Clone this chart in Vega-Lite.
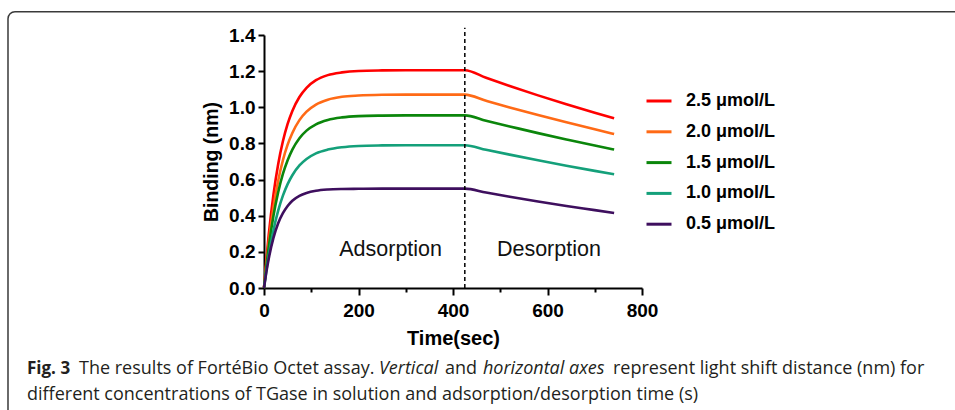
{
  "$schema": "https://vega.github.io/schema/vega-lite/v6.json",
  "width": 378,
  "height": 253,
  "autosize": {"type": "none"},
  "padding": {"left": 264, "top": 35, "right": 313, "bottom": 122},
  "background": "white",
  "config": {
    "view": {"stroke": null},
    "font": "Liberation Sans",
    "axis": {"grid": false, "domainColor": "black", "domainWidth": 2, "tickColor": "black", "tickWidth": 2,
      "labelFont": "Liberation Sans", "labelFontSize": 19, "labelFontWeight": "bold", "labelColor": "black", "labelOverlap": false,
      "titleFont": "Liberation Sans", "titleFontWeight": "bold", "titleColor": "black"},
    "axisX": {"values": [0,100,200,300,400,500,600,700,800], "labelPadding": 6, "labelFlush": false, "titleFontSize": 20, "titlePadding": 8},
    "axisY": {"values": [0,0.2,0.4,0.6,0.8,1.0,1.2,1.4], "labelPadding": 3, "titleFontSize": 19.5, "titlePadding": 7, "tickSize": 6}
  },
  "layer": [
    {
      "data": {"values": [
        {"c":"2.5 μmol/L","t":0,"v":0},{"c":"2.5 μmol/L","t":5,"v":0.157},{"c":"2.5 μmol/L","t":10,"v":0.294},{"c":"2.5 μmol/L","t":20,"v":0.517},{"c":"2.5 μmol/L","t":30,"v":0.685},{"c":"2.5 μmol/L","t":40,"v":0.812},{"c":"2.5 μmol/L","t":50,"v":0.908},{"c":"2.5 μmol/L","t":60,"v":0.98},{"c":"2.5 μmol/L","t":75,"v":1.057},{"c":"2.5 μmol/L","t":90,"v":1.108},{"c":"2.5 μmol/L","t":110,"v":1.15},{"c":"2.5 μmol/L","t":135,"v":1.178},{"c":"2.5 μmol/L","t":165,"v":1.193},{"c":"2.5 μmol/L","t":200,"v":1.201},{"c":"2.5 μmol/L","t":250,"v":1.204},{"c":"2.5 μmol/L","t":300,"v":1.205},{"c":"2.5 μmol/L","t":360,"v":1.205},{"c":"2.5 μmol/L","t":425,"v":1.205},{"c":"2.5 μmol/L","t":470,"v":1.163},{"c":"2.5 μmol/L","t":520,"v":1.118},{"c":"2.5 μmol/L","t":580,"v":1.066},{"c":"2.5 μmol/L","t":640,"v":1.017},{"c":"2.5 μmol/L","t":700,"v":0.97},{"c":"2.5 μmol/L","t":741,"v":0.939},
        {"c":"2.0 μmol/L","t":0,"v":0},{"c":"2.0 μmol/L","t":5,"v":0.135},{"c":"2.0 μmol/L","t":10,"v":0.253},{"c":"2.0 μmol/L","t":20,"v":0.447},{"c":"2.0 μmol/L","t":30,"v":0.594},{"c":"2.0 μmol/L","t":40,"v":0.707},{"c":"2.0 μmol/L","t":50,"v":0.793},{"c":"2.0 μmol/L","t":60,"v":0.858},{"c":"2.0 μmol/L","t":75,"v":0.929},{"c":"2.0 μmol/L","t":90,"v":0.976},{"c":"2.0 μmol/L","t":110,"v":1.015},{"c":"2.0 μmol/L","t":135,"v":1.042},{"c":"2.0 μmol/L","t":165,"v":1.058},{"c":"2.0 μmol/L","t":200,"v":1.065},{"c":"2.0 μmol/L","t":250,"v":1.069},{"c":"2.0 μmol/L","t":300,"v":1.07},{"c":"2.0 μmol/L","t":360,"v":1.07},{"c":"2.0 μmol/L","t":425,"v":1.07},{"c":"2.0 μmol/L","t":470,"v":1.036},{"c":"2.0 μmol/L","t":520,"v":0.999},{"c":"2.0 μmol/L","t":580,"v":0.957},{"c":"2.0 μmol/L","t":640,"v":0.917},{"c":"2.0 μmol/L","t":700,"v":0.878},{"c":"2.0 μmol/L","t":741,"v":0.852},
        {"c":"1.5 μmol/L","t":0,"v":0},{"c":"1.5 μmol/L","t":5,"v":0.121},{"c":"1.5 μmol/L","t":10,"v":0.226},{"c":"1.5 μmol/L","t":20,"v":0.399},{"c":"1.5 μmol/L","t":30,"v":0.53},{"c":"1.5 μmol/L","t":40,"v":0.631},{"c":"1.5 μmol/L","t":50,"v":0.707},{"c":"1.5 μmol/L","t":60,"v":0.766},{"c":"1.5 μmol/L","t":75,"v":0.829},{"c":"1.5 μmol/L","t":90,"v":0.871},{"c":"1.5 μmol/L","t":110,"v":0.906},{"c":"1.5 μmol/L","t":135,"v":0.93},{"c":"1.5 μmol/L","t":165,"v":0.944},{"c":"1.5 μmol/L","t":200,"v":0.951},{"c":"1.5 μmol/L","t":250,"v":0.954},{"c":"1.5 μmol/L","t":300,"v":0.955},{"c":"1.5 μmol/L","t":360,"v":0.955},{"c":"1.5 μmol/L","t":425,"v":0.955},{"c":"1.5 μmol/L","t":470,"v":0.925},{"c":"1.5 μmol/L","t":520,"v":0.894},{"c":"1.5 μmol/L","t":580,"v":0.857},{"c":"1.5 μmol/L","t":640,"v":0.822},{"c":"1.5 μmol/L","t":700,"v":0.788},{"c":"1.5 μmol/L","t":741,"v":0.766},
        {"c":"1.0 μmol/L","t":0,"v":0},{"c":"1.0 μmol/L","t":5,"v":0.096},{"c":"1.0 μmol/L","t":10,"v":0.181},{"c":"1.0 μmol/L","t":20,"v":0.32},{"c":"1.0 μmol/L","t":30,"v":0.428},{"c":"1.0 μmol/L","t":40,"v":0.511},{"c":"1.0 μmol/L","t":50,"v":0.575},{"c":"1.0 μmol/L","t":60,"v":0.624},{"c":"1.0 μmol/L","t":75,"v":0.678},{"c":"1.0 μmol/L","t":90,"v":0.714},{"c":"1.0 μmol/L","t":110,"v":0.745},{"c":"1.0 μmol/L","t":135,"v":0.766},{"c":"1.0 μmol/L","t":165,"v":0.779},{"c":"1.0 μmol/L","t":200,"v":0.786},{"c":"1.0 μmol/L","t":250,"v":0.789},{"c":"1.0 μmol/L","t":300,"v":0.79},{"c":"1.0 μmol/L","t":360,"v":0.79},{"c":"1.0 μmol/L","t":425,"v":0.79},{"c":"1.0 μmol/L","t":470,"v":0.765},{"c":"1.0 μmol/L","t":520,"v":0.738},{"c":"1.0 μmol/L","t":580,"v":0.707},{"c":"1.0 μmol/L","t":640,"v":0.677},{"c":"1.0 μmol/L","t":700,"v":0.648},{"c":"1.0 μmol/L","t":741,"v":0.629},
        {"c":"0.5 μmol/L","t":0,"v":0},{"c":"0.5 μmol/L","t":5,"v":0.088},{"c":"0.5 μmol/L","t":10,"v":0.162},{"c":"0.5 μmol/L","t":20,"v":0.277},{"c":"0.5 μmol/L","t":30,"v":0.358},{"c":"0.5 μmol/L","t":40,"v":0.414},{"c":"0.5 μmol/L","t":50,"v":0.454},{"c":"0.5 μmol/L","t":60,"v":0.483},{"c":"0.5 μmol/L","t":75,"v":0.51},{"c":"0.5 μmol/L","t":90,"v":0.526},{"c":"0.5 μmol/L","t":110,"v":0.538},{"c":"0.5 μmol/L","t":135,"v":0.545},{"c":"0.5 μmol/L","t":165,"v":0.548},{"c":"0.5 μmol/L","t":200,"v":0.549},{"c":"0.5 μmol/L","t":250,"v":0.55},{"c":"0.5 μmol/L","t":300,"v":0.55},{"c":"0.5 μmol/L","t":360,"v":0.55},{"c":"0.5 μmol/L","t":425,"v":0.55},{"c":"0.5 μmol/L","t":470,"v":0.528},{"c":"0.5 μmol/L","t":520,"v":0.505},{"c":"0.5 μmol/L","t":580,"v":0.479},{"c":"0.5 μmol/L","t":640,"v":0.454},{"c":"0.5 μmol/L","t":700,"v":0.431},{"c":"0.5 μmol/L","t":741,"v":0.415}
      ]},
      "mark": {"type": "line", "strokeWidth": 2.6, "interpolate": "monotone"},
      "encoding": {
        "x": {"field": "t", "type": "quantitative", "title": "Time(sec)",
          "scale": {"domain": [0, 800], "nice": false, "zero": false},
          "axis": {"labelExpr": "datum.value % 200 === 0 ? datum.label : ''",
            "tickSize": {"condition": {"test": "datum.value % 200 === 0", "value": 7}, "value": 4}}},
        "y": {"field": "v", "type": "quantitative", "title": "Binding (nm)",
          "scale": {"domain": [0, 1.4], "nice": false},
          "axis": {"format": ".1f"}},
        "color": {"field": "c", "type": "nominal",
          "scale": {"domain": ["2.5 μmol/L","2.0 μmol/L","1.5 μmol/L","1.0 μmol/L","0.5 μmol/L"],
            "range": ["#FF0000","#FF6A16","#0B860B","#14A07A","#3E0F5E"]},
          "legend": {"title": null, "orient": "none", "legendX": 381, "legendY": 52, "padding": 0,
            "symbolType": "stroke", "symbolSize": 625, "symbolStrokeWidth": 3,
            "labelFont": "Liberation Sans", "labelFontSize": 18, "labelFontWeight": "bold", "labelColor": "black",
            "labelOffset": 13, "rowPadding": 7.8}}
      }
    },
    {
      "data": {"values": [{"t": 425}]},
      "mark": {"type": "rule", "strokeDash": [4, 3], "strokeWidth": 1.5, "color": "black"},
      "encoding": {
        "x": {"field": "t", "type": "quantitative", "title": "Time(sec)", "scale": {"domain": [0, 800], "nice": false, "zero": false}},
        "y": {"datum": 0, "title": "Binding (nm)", "scale": {"domain": [0, 1.4], "nice": false}},
        "y2": {"datum": 1.44}
      }
    },
    {
      "data": {"values": [{"label": "Adsorption", "t": 268, "v": 0.208}, {"label": "Desorption", "t": 603, "v": 0.208}]},
      "mark": {"type": "text", "font": "Liberation Sans", "fontSize": 21.5, "color": "#111111", "align": "center", "baseline": "middle"},
      "encoding": {
        "x": {"field": "t", "type": "quantitative", "title": "Time(sec)", "scale": {"domain": [0, 800], "nice": false, "zero": false}},
        "y": {"field": "v", "type": "quantitative", "title": "Binding (nm)", "scale": {"domain": [0, 1.4], "nice": false}},
        "text": {"field": "label"}
      }
    },
    {
      "data": {"values": [{}]},
      "mark": {"type": "rect", "fillOpacity": 0, "stroke": "#3a3a3a", "strokeWidth": 1.5, "cornerRadius": 7},
      "encoding": {
        "x": {"datum": -541.8, "title": "Time(sec)", "scale": {"domain": [0, 800], "nice": false, "zero": false}},
        "x2": {"datum": 1500},
        "y": {"datum": 1.529, "title": "Binding (nm)", "scale": {"domain": [0, 1.4], "nice": false}},
        "y2": {"datum": -1.5}
      }
    },
    {
      "data": {"values": [
        {"seg": "fig", "text": "Fig. 3"},
        {"seg": "a", "text": "The results of FortéBio Octet assay."},
        {"seg": "b", "text": "Vertical"},
        {"seg": "c", "text": "and"},
        {"seg": "d", "text": "horizontal axes"},
        {"seg": "e", "text": "represent light shift distance (nm) for"},
        {"seg": "f", "text": "different concentrations of TGase in solution and adsorption/desorption time (s)"}
      ]},
      "layer": [
        {
          "transform": [{"filter": "datum.seg === 'fig'"}],
          "mark": {"type": "text", "font": "Open Sans", "fontSize": 17, "fontWeight": "bold", "color": "#231f20", "align": "left", "baseline": "middle"},
          "encoding": {"x": {"datum": -501.6, "title": "Time(sec)", "scale": {"domain": [0, 800], "nice": false, "zero": false}}, "y": {"datum": -0.4466, "title": "Binding (nm)", "scale": {"domain": [0, 1.4], "nice": false}}, "text": {"field": "text"}}
        },
        {
          "transform": [{"filter": "datum.seg === 'a'"}],
          "mark": {"type": "text", "font": "Open Sans", "fontSize": 18, "color": "#231f20", "align": "left", "baseline": "middle"},
          "encoding": {"x": {"datum": -391.5, "title": "Time(sec)", "scale": {"domain": [0, 800], "nice": false, "zero": false}}, "y": {"datum": -0.4466, "title": "Binding (nm)", "scale": {"domain": [0, 1.4], "nice": false}}, "text": {"field": "text"}}
        },
        {
          "transform": [{"filter": "datum.seg === 'b'"}],
          "mark": {"type": "text", "font": "Open Sans", "fontSize": 18, "fontStyle": "italic", "color": "#231f20", "align": "left", "baseline": "middle"},
          "encoding": {"x": {"datum": 243.3, "title": "Time(sec)", "scale": {"domain": [0, 800], "nice": false, "zero": false}}, "y": {"datum": -0.4466, "title": "Binding (nm)", "scale": {"domain": [0, 1.4], "nice": false}}, "text": {"field": "text"}}
        },
        {
          "transform": [{"filter": "datum.seg === 'c'"}],
          "mark": {"type": "text", "font": "Open Sans", "fontSize": 18, "color": "#231f20", "align": "left", "baseline": "middle"},
          "encoding": {"x": {"datum": 383.1, "title": "Time(sec)", "scale": {"domain": [0, 800], "nice": false, "zero": false}}, "y": {"datum": -0.4466, "title": "Binding (nm)", "scale": {"domain": [0, 1.4], "nice": false}}, "text": {"field": "text"}}
        },
        {
          "transform": [{"filter": "datum.seg === 'd'"}],
          "mark": {"type": "text", "font": "Open Sans", "fontSize": 18, "fontStyle": "italic", "color": "#231f20", "align": "left", "baseline": "middle"},
          "encoding": {"x": {"datum": 463.5, "title": "Time(sec)", "scale": {"domain": [0, 800], "nice": false, "zero": false}}, "y": {"datum": -0.4466, "title": "Binding (nm)", "scale": {"domain": [0, 1.4], "nice": false}}, "text": {"field": "text"}}
        },
        {
          "transform": [{"filter": "datum.seg === 'e'"}],
          "mark": {"type": "text", "font": "Open Sans", "fontSize": 18, "color": "#231f20", "align": "left", "baseline": "middle"},
          "encoding": {"x": {"datum": 738.6, "title": "Time(sec)", "scale": {"domain": [0, 800], "nice": false, "zero": false}}, "y": {"datum": -0.4466, "title": "Binding (nm)", "scale": {"domain": [0, 1.4], "nice": false}}, "text": {"field": "text"}}
        },
        {
          "transform": [{"filter": "datum.seg === 'f'"}],
          "mark": {"type": "text", "font": "Open Sans", "fontSize": 18, "color": "#231f20", "align": "left", "baseline": "middle"},
          "encoding": {"x": {"datum": -501.6, "title": "Time(sec)", "scale": {"domain": [0, 800], "nice": false, "zero": false}}, "y": {"datum": -0.5905, "title": "Binding (nm)", "scale": {"domain": [0, 1.4], "nice": false}}, "text": {"field": "text"}}
        }
      ]
    }
  ]
}
